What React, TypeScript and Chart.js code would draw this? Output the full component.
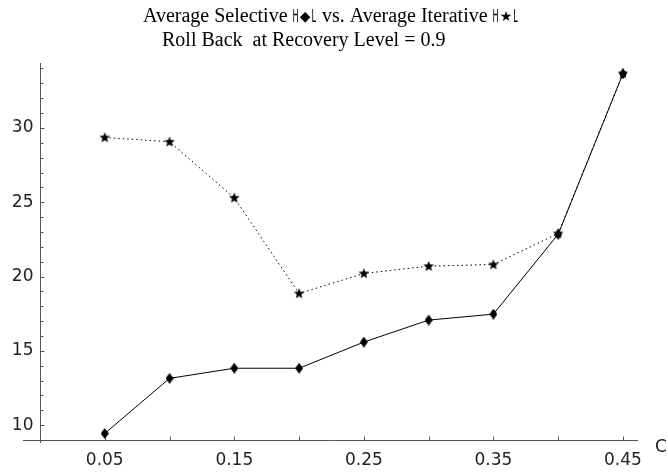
import React, { useEffect, useRef } from "react";
import { Chart, registerables } from "chart.js";

Chart.register(...registerables);

// ---- data ----
const cValues = [0.05, 0.1, 0.15, 0.2, 0.25, 0.3, 0.35, 0.4, 0.45];
const selectiveValues = [9.44, 13.15, 13.83, 13.83, 15.59, 17.07, 17.47, 22.85, 33.65];
const iterativeValues = [29.36, 29.07, 25.3, 18.86, 20.21, 20.7, 20.81, 22.9, 33.67];

const xTickValues = [0.05, 0.1, 0.15, 0.2, 0.25, 0.3, 0.35, 0.4, 0.45];
const xTickLabels = ["0.05", "", "0.15", "", "0.25", "", "0.35", "", "0.45"];
const yMajorTicks = [10, 15, 20, 25, 30];
const yMinorTicks = [10, 11, 12, 13, 14, 15, 16, 17, 18, 19, 20, 21, 22, 23, 24, 25, 26, 27, 28, 29, 30, 31, 32, 33, 34];

const xAxisLabel = "C";
const titleLine1 = [
  { t: "Average Selective ", k: "serif" },
  { t: "H", k: "glyph" },
  { t: "\u25C6", k: "sym" },
  { t: "L", k: "glyph" },
  { t: " vs. Average Iterative ", k: "serif" },
  { t: "H", k: "glyph" },
  { t: "\u2605", k: "sym" },
  { t: "L", k: "glyph" },
];
const titleLine2 = "Roll Back  at Recovery Level = 0.9";

const X_MIN = -0.0131;
const X_MAX = 0.4616;
const Y_MIN = 8.8;
const Y_MAX = 34.37;
const AXIS_ORIGIN_X = 0;
const AXIS_ORIGIN_Y = 9;

const SERIF = "20px 'Liberation Serif', 'Times New Roman', serif";
const GLYPH = "18px 'DejaVu Sans'";
const SYM = "14px 'DejaVu Sans'";
const TICKFONT = "17px 'DejaVu Sans'";
const AXIS_COLOR = "#555";

function makeDiamond(): HTMLCanvasElement {
  const c = document.createElement("canvas");
  c.width = 8;
  c.height = 11;
  const g = c.getContext("2d")!;
  g.fillStyle = "#000";
  g.beginPath();
  g.moveTo(4, 0);
  g.lineTo(8, 5.5);
  g.lineTo(4, 11);
  g.lineTo(0, 5.5);
  g.closePath();
  g.fill();
  return c;
}

function makeStar(): HTMLCanvasElement {
  const c = document.createElement("canvas");
  c.width = 12;
  c.height = 12;
  const g = c.getContext("2d")!;
  g.fillStyle = "#000";
  g.beginPath();
  const cx = 6, cy = 6.3, ro = 5.6, ri = 2.4;
  for (let i = 0; i < 10; i++) {
    const r = i % 2 === 0 ? ro : ri;
    const a = -Math.PI / 2 + (i * Math.PI) / 5;
    const px = cx + r * Math.cos(a);
    const py = cy + r * Math.sin(a);
    if (i === 0) g.moveTo(px, py);
    else g.lineTo(px, py);
  }
  g.closePath();
  g.fill();
  return c;
}

const axesPlugin = {
  id: "mmaAxes",
  beforeDatasetsDraw(chart: any) {
    const { ctx, chartArea } = chart;
    const xs = chart.scales.x;
    const ys = chart.scales.y;
    const x0 = Math.round(xs.getPixelForValue(AXIS_ORIGIN_X)) + 0.5;
    const y0 = Math.round(ys.getPixelForValue(AXIS_ORIGIN_Y)) + 0.5;
    ctx.save();
    ctx.strokeStyle = AXIS_COLOR;
    ctx.lineWidth = 1;
    ctx.beginPath();
    ctx.moveTo(chartArea.left, y0);
    ctx.lineTo(chartArea.right, y0);
    ctx.moveTo(x0, chartArea.top);
    ctx.lineTo(x0, chartArea.bottom);
    xTickValues.forEach((v) => {
      const px = Math.round(xs.getPixelForValue(v)) + 0.5;
      ctx.moveTo(px, y0);
      ctx.lineTo(px, y0 - 4);
    });
    yMinorTicks.forEach((v) => {
      const py = Math.round(ys.getPixelForValue(v)) + 0.5;
      const len = yMajorTicks.includes(v) ? 4 : 3;
      ctx.moveTo(x0, py);
      ctx.lineTo(x0 + len, py);
    });
    ctx.stroke();

    ctx.fillStyle = "#222";
    ctx.font = TICKFONT;
    ctx.textAlign = "center";
    ctx.textBaseline = "middle";
    xTickValues.forEach((v, i) => {
      if (xTickLabels[i]) ctx.fillText(xTickLabels[i], xs.getPixelForValue(v), y0 + 20);
    });
    ctx.textAlign = "right";
    yMajorTicks.forEach((v) => {
      ctx.fillText(String(v), x0 - 7, ys.getPixelForValue(v));
    });
    ctx.textAlign = "left";
    ctx.fillText(xAxisLabel, chartArea.right + 17, y0 + 7);
    ctx.restore();
  },
  afterDraw(chart: any) {
    const { ctx } = chart;
    ctx.save();
    ctx.fillStyle = "#000";
    ctx.textBaseline = "alphabetic";
    ctx.textAlign = "left";
    let x = 143;
    const base1 = 22;
    titleLine1.forEach((seg) => {
      if (seg.k === "serif") {
        ctx.font = SERIF;
        ctx.fillText(seg.t, x, base1);
        x += ctx.measureText(seg.t).width;
      } else if (seg.k === "glyph") {
        ctx.font = GLYPH;
        const w = ctx.measureText(seg.t).width;
        ctx.save();
        ctx.translate(x, base1);
        ctx.scale(0.45, 1);
        ctx.fillText(seg.t, 0, 0);
        ctx.restore();
        x += w * 0.45 + 1;
      } else {
        ctx.font = SYM;
        ctx.fillText(seg.t, x, base1 - 1);
        x += ctx.measureText(seg.t).width + 1;
      }
    });
    ctx.font = SERIF;
    ctx.fillText(titleLine2, 162, 46);
    ctx.restore();
  },
};

export default function App() {
  const ref = useRef<HTMLCanvasElement | null>(null);
  useEffect(() => {
    document.body.style.margin = "0";
    const canvas = ref.current!;
    const diamond = makeDiamond();
    const star = makeStar();
    const chart = new Chart(canvas, {
      type: "line",
      data: {
        datasets: [
          {
            label: "Selective",
            data: cValues.map((c, i) => ({ x: c, y: selectiveValues[i] })),
            borderColor: "#000",
            backgroundColor: "#000",
            borderWidth: 1,
            pointStyle: diamond as any,
            pointRadius: 5,
            fill: false,
            tension: 0,
            clip: false as any,
          },
          {
            label: "Iterative",
            data: cValues.map((c, i) => ({ x: c, y: iterativeValues[i] })),
            borderColor: "#000",
            backgroundColor: "#000",
            borderWidth: 1,
            borderDash: [1.5, 3],
            pointStyle: star as any,
            pointRadius: 6,
            fill: false,
            tension: 0,
            clip: false as any,
          },
        ],
      },
      options: {
        responsive: false,
        animation: false,
        layout: { padding: { left: 23, right: 30, top: 63, bottom: 30 } },
        plugins: {
          legend: { display: false },
          title: { display: false },
          tooltip: { enabled: false },
        },
        scales: {
          x: { type: "linear", min: X_MIN, max: X_MAX, display: false },
          y: { type: "linear", min: Y_MIN, max: Y_MAX, display: false },
        },
      },
      plugins: [axesPlugin],
    });
    return () => chart.destroy();
  }, []);
  return <canvas ref={ref} width={668} height={473} style={{ display: "block" }} />;
}
